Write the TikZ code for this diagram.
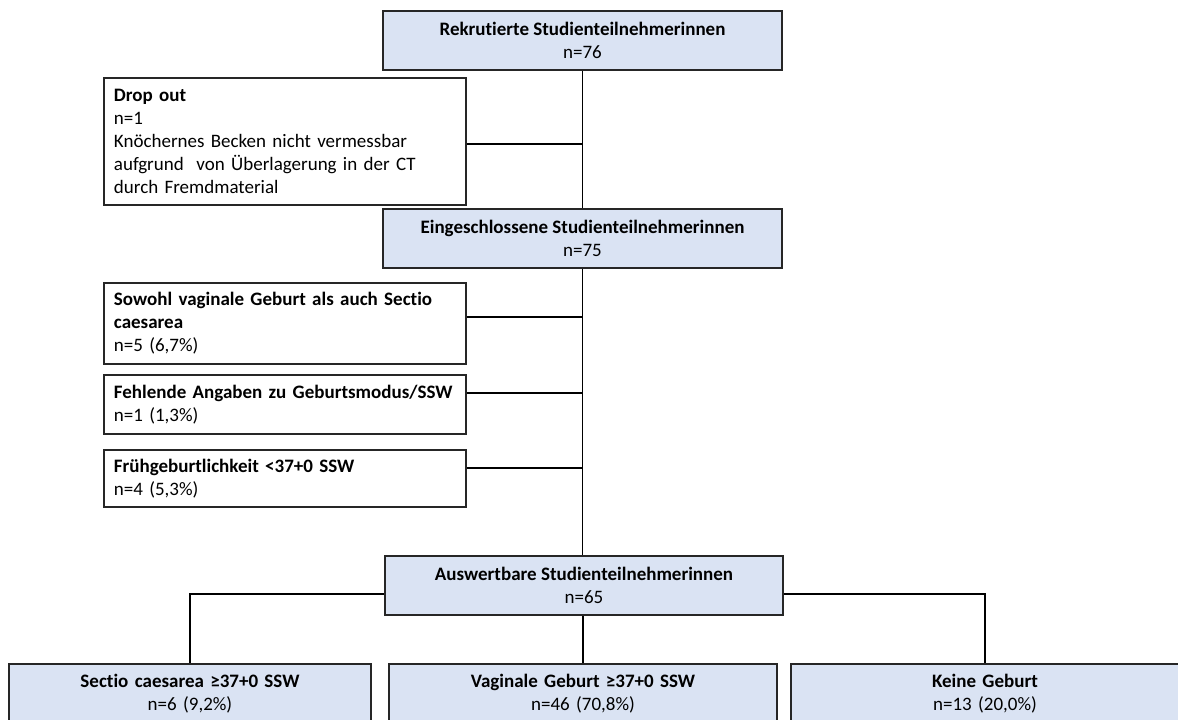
\documentclass[tikz,border=0pt]{standalone}
\usepackage{fontspec}
\setmainfont{Carlito}[Ligatures=NoCommon]
\usepackage{xcolor}
\usetikzlibrary{calc}
\definecolor{boxfill}{HTML}{DAE3F3}
\definecolor{boxline}{HTML}{262626}

\begin{document}
\begin{tikzpicture}[x=1pt,y=-1pt,
        font=\fontsize{19}{23}\selectfont,
        mainbox/.style={draw=boxline,line width=1.9pt,fill=boxfill,align=center,inner sep=0pt,minimum height=59pt},
        sidebox/.style={draw=boxline,line width=1.9pt,anchor=north west,align=left,text width=342pt,inner xsep=10pt,inner ysep=0pt},
        endbox/.style={draw=boxline,line width=1.9pt,fill=boxfill,anchor=north,align=center,inner xsep=0pt,inner ysep=10pt},
        link/.style={line width=1.4pt}]
        \useasboundingbox (0,0) rectangle (1178,720);
        \clip (0,0) rectangle (1178,720);

        % Main column
        \node[mainbox,minimum width=399pt] (rek) at (582.5,40.5)
            {\textbf{Rekrutierte Studienteilnehmerinnen}\\n=76};
        \node[mainbox,minimum width=399pt] (ein) at (582.5,238.5)
            {\textbf{Eingeschlossene Studienteilnehmerinnen}\\n=75};
        \node[mainbox,minimum width=398pt] (ausw) at (584,585.5)
            {\textbf{Auswertbare Studienteilnehmerinnen}\\n=65};

        % Exclusions
        \node[sidebox,minimum height=127pt] (drop) at (103,77)
            {\textbf{Drop out}\\n=1\\Knöchernes Becken nicht vermessbar\\aufgrund\ \ von Überlagerung in der CT\\durch Fremdmaterial};
        \node[sidebox,minimum height=81pt] (sowohl) at (103,282)
            {\textbf{Sowohl vaginale Geburt als auch Sectio}\\\textbf{caesarea}\\n=5 (6,7\%)};
        \node[sidebox,minimum height=59pt] (fehl) at (103,374)
            {\textbf{Fehlende Angaben zu Geburtsmodus/SSW}\\n=1 (1,3\%)};
        \node[sidebox,minimum height=57pt] (frueh) at (103,449)
            {\textbf{Frühgeburtlichkeit <37+0 SSW}\\n=4 (5,3\%)};

        % Outcome groups
        \node[endbox,text width=362pt] (sectio) at (190,663)
            {\textbf{Sectio caesarea ≥37+0 SSW}\\n=6 (9,2\%)\\\strut};
        \node[endbox,text width=388pt] (vag) at (583,663)
            {\textbf{Vaginale Geburt ≥37+0 SSW}\\n=46 (70,8\%)\\\strut};
        \node[endbox,text width=388pt] (keine) at (985,663)
            {\textbf{Keine Geburt}\\n=13 (20,0\%)\\\strut};

        % Connectors
        \draw[link] (rek) -- (ein);
        \draw[link] (ein) -- (ausw.north -| ein.south);
        \draw[link] ([yshift=-2.5pt]drop.east) -- ([yshift=-2.5pt]drop.east -| rek.south);
        \draw[link] ([yshift=6.5pt]sowohl.east) -- ([yshift=6.5pt]sowohl.east -| rek.south);
        \draw[link] ([yshift=11.5pt]fehl.east) -- ([yshift=11.5pt]fehl.east -| rek.south);
        \draw[link] ([yshift=10.5pt]frueh.east) -- ([yshift=10.5pt]frueh.east -| rek.south);
        \draw[link] ([yshift=-8.5pt]ausw.west) -| (sectio.north);
        \draw[link] ([yshift=-8.5pt]ausw.east) -| (keine.north);
        \draw[link] (ausw.south -| vag.north) -- (vag.north);
\end{tikzpicture}
\end{document}
